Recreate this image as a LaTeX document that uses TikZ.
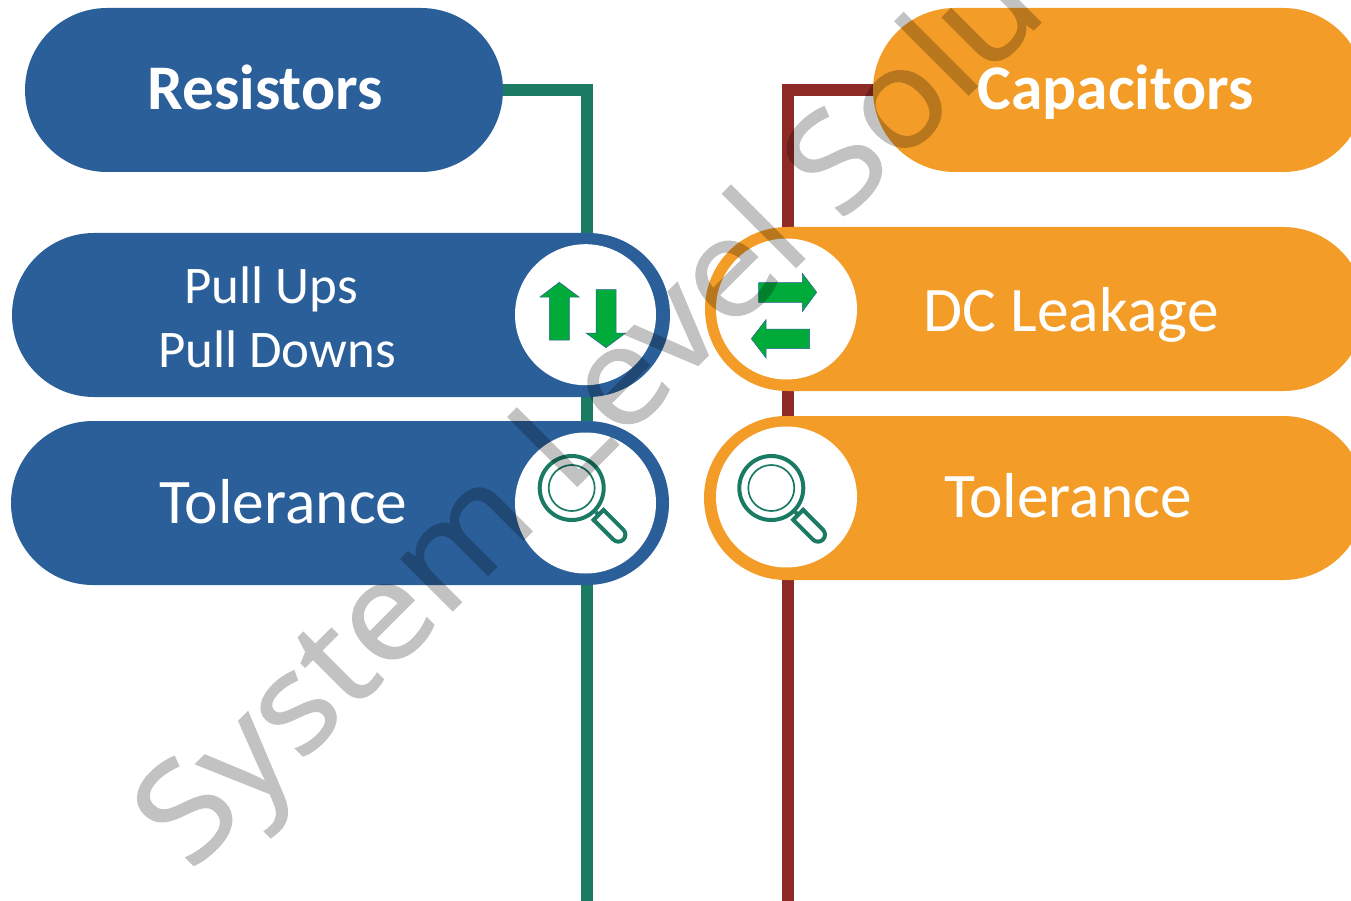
\documentclass[tikz,border=0pt]{standalone}
\usepackage{fontspec}
\setmainfont{Carlito}
\newfontfamily\wmfont[FakeBold=1]{Open Sans}
\usetikzlibrary{shapes.misc,backgrounds}
\definecolor{pblue}{HTML}{2B5F9A}
\definecolor{porange}{HTML}{F39C27}
\definecolor{pgreen}{HTML}{1A7A63}
\definecolor{pred}{HTML}{8E2A25}
\definecolor{parrow}{HTML}{00AB3A}
\tikzset{
  pill/.style={rounded rectangle,fill=#1,minimum height=164pt,inner sep=0pt,outer sep=0pt},
  hole/.style={circle,fill=white,minimum size=141pt,inner sep=0pt,outer sep=0pt},
  bigbold/.style={anchor=base,text=white,inner sep=0pt,font=\fontsize{63.6}{70}\selectfont\bfseries},
  bigtext/.style={anchor=base,text=white,inner sep=0pt,font=\fontsize{63.5}{70}\selectfont},
  midtext/.style={anchor=base,text=white,inner sep=0pt,font=\fontsize{52.9}{60}\selectfont},
  wire/.style={line width=12pt,#1},
  arrowshape/.style={fill=parrow,draw=pblue,line width=.5pt,line join=miter},
  lens/.pic={
    \draw[pgreen,line width=4pt] (0,0) circle (32);
    \draw[pgreen,line width=1.7pt] (0,0) circle (23);
    \begin{scope}[rotate=-45,pgreen,line width=4pt]
      \draw (34,0) -- (38,0);
      \draw (38,-9) -- (38,9);
      \draw[line width=4pt] (38,-7) -- (66,-7) arc[start angle=-90,end angle=90,radius=7] -- (38,7);
    \end{scope}
  }
}
\begin{document}
\begin{tikzpicture}[x=1pt,y=-1pt]
\useasboundingbox (0,0) rectangle (1351,901);
\clip (0,0) rectangle (1351,901);
% pills
\node[pill=pblue,minimum width=478pt] (res) at (264,90) {};
\node[pill=pblue,minimum width=658pt] (pull) at (341,315) {};
\node[pill=pblue,minimum width=658pt] (ltol) at (340,503) {};
\node[pill=porange,minimum width=492pt] (cap) at (1119,90) {};
\node[pill=porange,minimum width=660pt] (dc) at (1035,309) {};
\node[pill=porange,minimum width=661pt] (rtol) at (1034.5,498) {};
% holes
\node[hole] (h1) at (585.5,314.7) {};
\node[hole] (h2) at (585.5,503) {};
\node[hole] (h3) at (786.5,309) {};
\node[hole] (h4) at (786.5,497) {};
% free ends and connectors
\coordinate (gbot) at (587,901);
\coordinate (rbot) at (787.5,901);
\begin{scope}[on background layer]
  \draw[wire=pgreen] (res.east) -| (gbot);
  \draw[wire=pred] (cap.west) -| (rbot);
\end{scope}
% text
\node[bigbold] (t1) at (265,109.5) {Resistors};
\node[bigbold] (t2) at (1115.5,109.5) {Capacitors};
\node[midtext] (t3) at (271,303) {Pull Ups};
\node[midtext] (t4) at (277,367) {Pull Downs};
\node[bigtext] (t5) at (283.5,523) {Tolerance};
\node[bigtext] (t6) at (1071,331) {DC Leakage};
\node[bigtext] (t7) at (1068,517.5) {Tolerance};
% arrows
\draw[arrowshape] (559.3,282.3) -- (579,297) -- (569.3,297) -- (569.3,340) -- (549.3,340) -- (549.3,297) -- (540,297) -- cycle;
\draw[arrowshape] (606,347.7) -- (625.7,333) -- (616,333) -- (616,289.7) -- (596,289.7) -- (596,333) -- (586,333) -- cycle;
\draw[arrowshape] (816.7,292.3) -- (802.3,273.3) -- (802.3,282.7) -- (758.7,282.7) -- (758.7,302.3) -- (802.3,302.3) -- (802.3,311.7) -- cycle;
\draw[arrowshape] (751.3,338.7) -- (766,319.7) -- (766,329) -- (809.7,329) -- (809.7,348.7) -- (766,348.7) -- (766,358) -- cycle;
% magnifiers
\pic at (571.7,488) {lens};
\pic at (771.3,488) {lens};
% watermark
\begin{scope}[transparency group,opacity=.24]
\node[rotate=45,anchor=base west,inner sep=0pt,text=black,font=\wmfont\fontsize{137}{150}\selectfont] (wm) at (190.5,873) {\scalebox{1.07}[1]{System Level Solutions}};
\end{scope}
\end{tikzpicture}
\end{document}
